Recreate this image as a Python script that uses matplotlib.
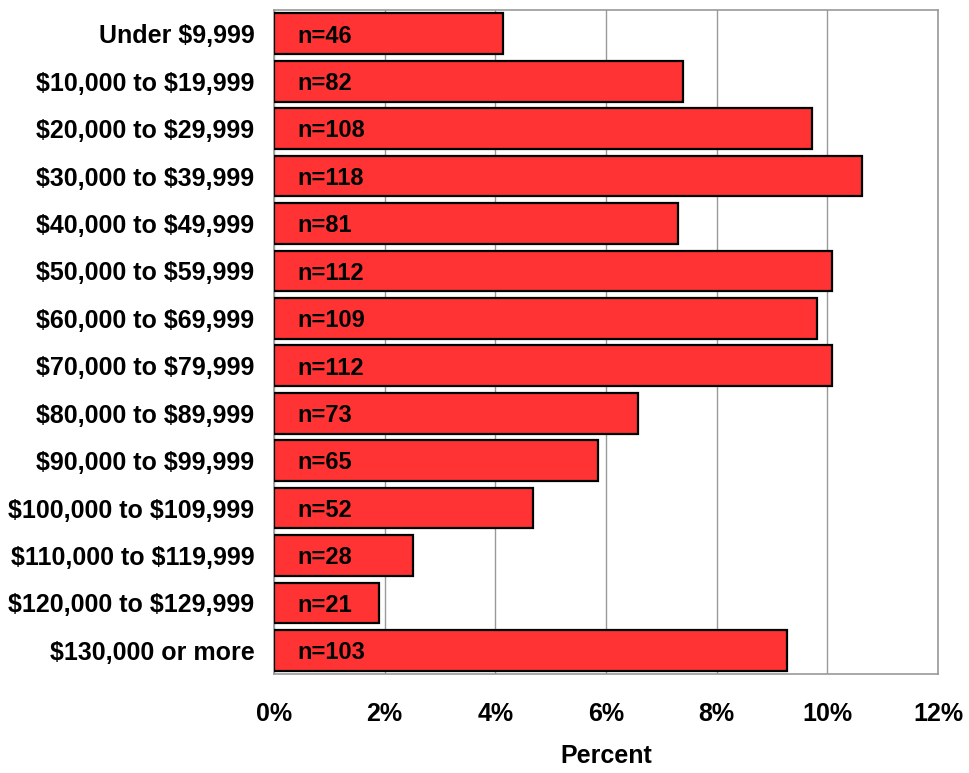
import matplotlib
matplotlib.use("Agg")
import matplotlib.pyplot as plt
from matplotlib.ticker import FuncFormatter

plt.rcParams['font.family'] = ['Liberation Sans', 'DejaVu Sans']
plt.rcParams['text.parse_math'] = False

categories = ["Under $9,999", "$10,000 to $19,999", "$20,000 to $29,999",
              "$30,000 to $39,999", "$40,000 to $49,999", "$50,000 to $59,999",
              "$60,000 to $69,999", "$70,000 to $79,999", "$80,000 to $89,999",
              "$90,000 to $99,999", "$100,000 to $109,999", "$110,000 to $119,999",
              "$120,000 to $129,999", "$130,000 or more"]
counts = [46, 82, 108, 118, 81, 112, 109, 112, 73, 65, 52, 28, 21, 103]
percents = [4.14, 7.39, 9.73, 10.63, 7.30, 10.09, 9.82, 10.09, 6.58, 5.86,
             4.68, 2.52, 1.89, 9.28]

fig = plt.figure(figsize=(9.7, 7.73), dpi=100)
ax = fig.add_axes([0.2825, 0.128, 0.6845, 0.859])

y = list(range(len(categories)))
ax.barh(y, percents, height=0.86, color="#FF3333", edgecolor="black",
        linewidth=1.6, zorder=3)

for yi, n in zip(y, counts):
    ax.text(0.42, yi + 0.05, f"n={n}", va="center", ha="left", fontsize=17,
            fontweight="bold", zorder=4)

ax.set_xlim(0, 12)
ax.set_ylim(len(categories) - 0.5, -0.5)
ax.set_xticks(range(0, 13, 2))
ax.xaxis.set_major_formatter(FuncFormatter(lambda v, _: f"{v:.0f}%"))
ax.set_yticks(y)
ax.set_yticklabels(categories)
ax.tick_params(axis="both", length=0, labelsize=18)
ax.tick_params(axis="x", pad=20)
ax.tick_params(axis="y", pad=14)
for lbl in ax.get_xticklabels() + ax.get_yticklabels():
    lbl.set_fontweight("bold")

ax.grid(axis="x", color="#999999", linewidth=1.0, zorder=0)
for side in ax.spines.values():
    side.set_color("#999999")
    side.set_linewidth(1.2)

ax.set_xlabel("Percent", fontsize=18, fontweight="bold", labelpad=13)

fig.savefig("out.png", dpi=100)
